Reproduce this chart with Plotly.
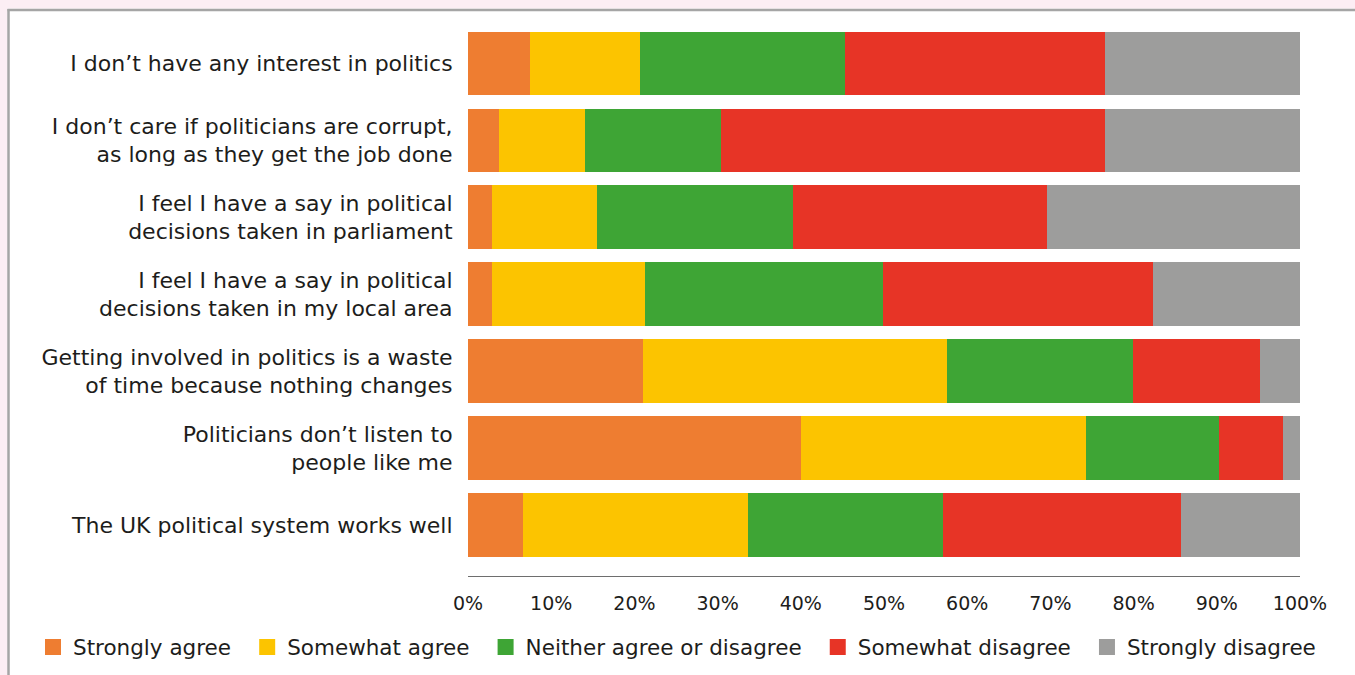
import plotly.graph_objects as go

# statements, top to bottom as shown
statements = [
    "I don\u2019t have any interest in politics",
    "I don\u2019t care if politicians are corrupt,<br>as long as they get the job done",
    "I feel I have a say in political<br>decisions taken in parliament",
    "I feel I have a say in political<br>decisions taken in my local area",
    "Getting involved in politics is a waste<br>of time because nothing changes",
    "Politicians don\u2019t listen to<br>people like me",
    "The UK political system works well",
]

responses = [
    "Strongly agree",
    "Somewhat agree",
    "Neither agree or disagree",
    "Somewhat disagree",
    "Strongly disagree",
]

# percentages per statement (same order as statements)
strongly_agree = [7.5, 3.7, 2.9, 2.9, 21.0, 40.0, 6.6]
somewhat_agree = [13.2, 10.4, 12.6, 18.4, 36.6, 34.3, 27.1]
neither = [24.6, 16.3, 23.6, 28.6, 22.3, 16.0, 23.4]
somewhat_disagree = [31.3, 46.2, 30.5, 32.4, 15.3, 7.7, 28.6]
strongly_disagree = [23.4, 23.4, 30.4, 17.7, 4.8, 2.0, 14.3]

colors = ["#EE7D31", "#FCC400", "#3EA535", "#E73426", "#9D9D9C"]

tick_vals = [0, 10, 20, 30, 40, 50, 60, 70, 80, 90, 100]
tick_text = [f"{v}%" for v in tick_vals]

series = [strongly_agree, somewhat_agree, neither, somewhat_disagree, strongly_disagree]

TEXT = "#1D1D1B"
FONT = "DejaVu Sans"
PINK = "#FCEEF4"
FRAME = "#A5A5A5"

fig = go.Figure()
for name, vals, col in zip(responses, series, colors):
    fig.add_trace(
        go.Bar(
            y=statements[::-1],
            x=vals[::-1],
            name=name,
            orientation="h",
            marker=dict(color=col, line=dict(width=0)),
            width=0.83,
            showlegend=False,
        )
    )

# legend entries with larger square swatches (small pad widens the gaps)
for i, (name, col) in enumerate(zip(responses, colors)):
    pad = "\u00a0\u2009" if i < len(responses) - 1 else ""
    fig.add_trace(
        go.Scatter(
            x=[None],
            y=[None],
            mode="markers",
            name=name + pad,
            marker=dict(symbol="square", size=17, color=col),
            hoverinfo="skip",
        )
    )

W, H = 1355, 675
ml, mr, mt, mb = 468, 55, 24.5, 99
pw, ph = W - ml - mr, H - mt - mb


def px_x(p):
    return (p - ml) / pw


def px_y(p):
    return (H - mb - p) / ph


# pink page strip along top and left, then a grey frame
shapes = [
    dict(type="rect", x0=px_x(-5), x1=px_x(W + 5), y0=px_y(8), y1=px_y(-5),
         fillcolor=PINK, line=dict(width=0)),
    dict(type="rect", x0=px_x(-5), x1=px_x(7.5), y0=px_y(H + 5), y1=px_y(-5),
         fillcolor=PINK, line=dict(width=0)),
    dict(type="line", x0=px_x(7.5), x1=px_x(W + 5), y0=px_y(9.5), y1=px_y(9.5),
         line=dict(color=FRAME, width=2.5)),
    dict(type="line", x0=px_x(8.5), x1=px_x(8.5), y0=px_y(H + 5), y1=px_y(8.5),
         line=dict(color=FRAME, width=2.5)),
]
for s in shapes:
    fig.add_shape(xref="paper", yref="paper", layer="below", **s)

fig.update_layout(
    width=W,
    height=H,
    barmode="stack",
    paper_bgcolor="white",
    plot_bgcolor="rgba(0,0,0,0)",
    margin=dict(l=ml, r=mr, t=mt, b=mb, autoexpand=False),
    font=dict(family=FONT, color=TEXT),
    xaxis=dict(
        range=[0, 100],
        tickvals=tick_vals,
        ticktext=tick_text,
        showgrid=False,
        zeroline=False,
        showline=True,
        linecolor="#6E6E6E",
        linewidth=1,
        ticks="outside",
        ticklen=10,
        tickcolor="rgba(0,0,0,0)",
        tickfont=dict(family=FONT, size=19, color=TEXT),
        fixedrange=True,
    ),
    yaxis=dict(
        range=[-0.66, 6.5],
        showgrid=False,
        zeroline=False,
        ticks="outside",
        ticklen=10,
        tickcolor="rgba(0,0,0,0)",
        tickfont=dict(family=FONT, size=22, color=TEXT),
        fixedrange=True,
    ),
    legend=dict(
        orientation="h",
        x=px_x(33),
        xanchor="left",
        y=px_y(647),
        yanchor="middle",
        bgcolor="rgba(0,0,0,0)",
        font=dict(family=FONT, size=21.5, color=TEXT),
        traceorder="normal",
        itemclick=False,
        itemdoubleclick=False,
    ),
    showlegend=True,
)

fig.write_html(
    "out.html",
    config={"displayModeBar": False},
    post_script="document.body.style.margin='0';document.body.style.overflow='hidden';",
)
